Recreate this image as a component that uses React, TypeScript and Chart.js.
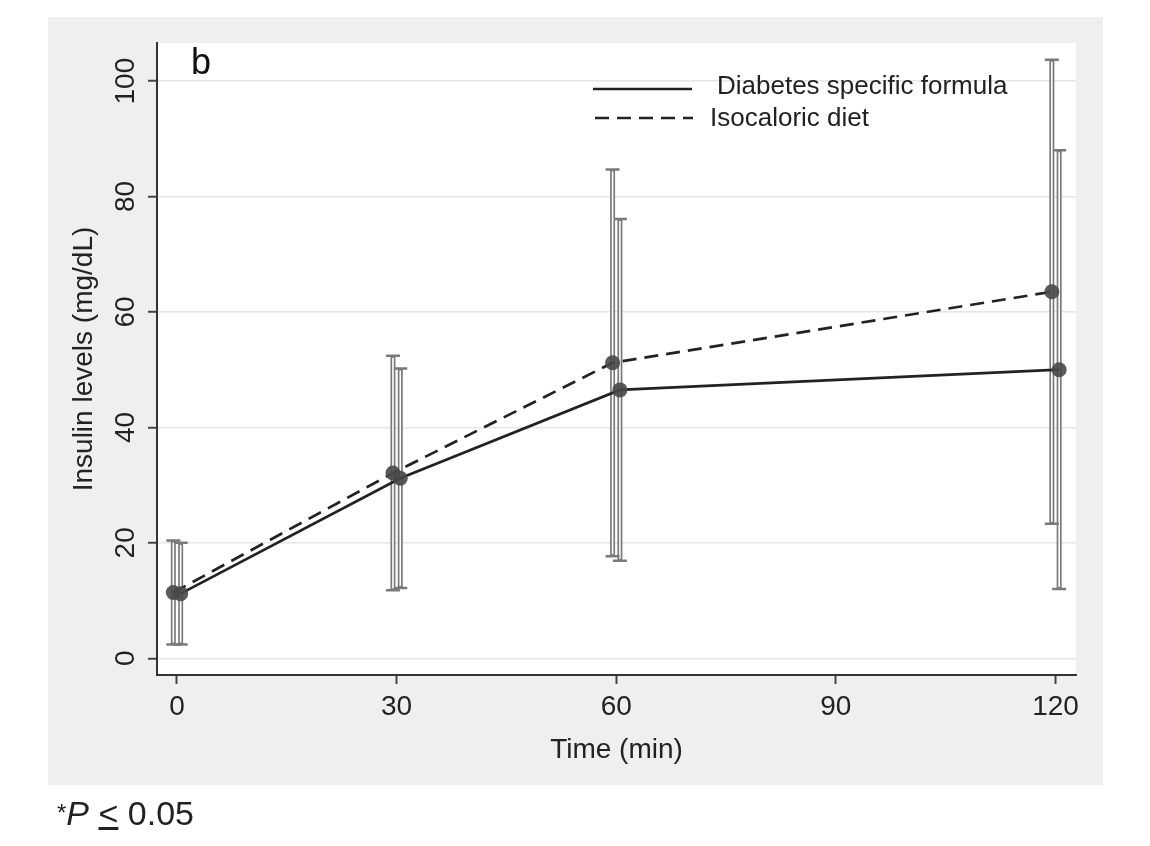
import { useEffect, useRef } from "react"
import { Chart, registerables } from "chart.js"
import type { Plugin } from "chart.js"

Chart.register(...registerables)

// mean and SD of insulin at each time point
const times = [0, 30, 60, 120]
const formulaMean = [11.2, 31.2, 46.5, 50.0]
const formulaSd = [8.8, 19.0, 29.6, 38.0]
const dietMean = [11.4, 32.1, 51.2, 63.5]
const dietSd = [9.0, 20.3, 33.5, 40.2]
const seriesNames = ["Diabetes specific formula", "Isocaloric diet"]
const xTicks = [0, 30, 60, 90, 120]
const yTicks = [0, 20, 40, 60, 80, 100]

const FONT = "'Liberation Sans', Arial, Helvetica, sans-serif"
const INK = "#222222"

export default function App() {
  const canvasRef = useRef<HTMLCanvasElement>(null)

  useEffect(() => {
    if (!canvasRef.current) return

    // the two groups are drawn slightly apart so the bars do not overlap
    const shift = [0.5, -0.5]
    const means = [formulaMean, dietMean]
    const sds = [formulaSd, dietSd]

    const background: Plugin = {
      id: "background",
      beforeDraw: (chart) => {
        const { ctx, chartArea } = chart
        ctx.save()
        ctx.fillStyle = "#ffffff"
        ctx.fillRect(0, 0, chart.width, chart.height)
        ctx.fillStyle = "#efefef"
        ctx.fillRect(48, 17, 1055, 768)
        ctx.fillStyle = "#ffffff"
        ctx.fillRect(chartArea.left, chartArea.top, chartArea.right - chartArea.left, chartArea.bottom - chartArea.top)
        ctx.restore()
      },
    }

    const errorBars: Plugin = {
      id: "errorBars",
      beforeDatasetsDraw: (chart) => {
        const { ctx } = chart
        const yScale = chart.scales.y
        ctx.save()
        chart.data.datasets.forEach((_, i) => {
          const meta = chart.getDatasetMeta(i)
          meta.data.forEach((pt, j) => {
            const x = pt.x
            const top = yScale.getPixelForValue(means[i][j] + sds[i][j])
            const bot = yScale.getPixelForValue(means[i][j] - sds[i][j])
            ctx.lineCap = "butt"
            ctx.strokeStyle = "#7a7a7a"
            ctx.lineWidth = 5
            ctx.beginPath()
            ctx.moveTo(x, top)
            ctx.lineTo(x, bot)
            ctx.stroke()
            ctx.strokeStyle = "#ffffff"
            ctx.lineWidth = 1.6
            ctx.beginPath()
            ctx.moveTo(x, top + 2)
            ctx.lineTo(x, bot - 2)
            ctx.stroke()
            ctx.strokeStyle = "#7a7a7a"
            ctx.lineWidth = 2.5
            ctx.beginPath()
            ctx.moveTo(x - 7, top)
            ctx.lineTo(x + 7, top)
            ctx.moveTo(x - 7, bot)
            ctx.lineTo(x + 7, bot)
            ctx.stroke()
          })
        })
        ctx.restore()
      },
    }

    const annotations: Plugin = {
      id: "annotations",
      afterDraw: (chart) => {
        const { ctx } = chart
        ctx.save()
        ctx.fillStyle = "#111"
        ctx.font = `36px ${FONT}`
        ctx.textBaseline = "alphabetic"
        ctx.fillText("b", 191, 74)

        // legend
        ctx.strokeStyle = INK
        ctx.lineWidth = 2.5
        ctx.beginPath()
        ctx.moveTo(593, 89)
        ctx.lineTo(692, 89)
        ctx.stroke()
        ctx.setLineDash([14, 8])
        ctx.beginPath()
        ctx.moveTo(595, 118)
        ctx.lineTo(693, 118)
        ctx.stroke()
        ctx.setLineDash([])
        ctx.fillStyle = INK
        ctx.font = `26px ${FONT}`
        ctx.textBaseline = "middle"
        ctx.fillText(seriesNames[0], 717, 87)
        ctx.fillText(seriesNames[1], 710, 119)
        ctx.restore()
      },
    }

    const chart = new Chart(canvasRef.current, {
      type: "scatter",
      data: {
        datasets: [
          {
            label: seriesNames[0],
            data: times.map((t, i) => ({ x: t + shift[0], y: formulaMean[i] })),
            showLine: true,
            borderColor: INK,
            borderWidth: 2.7,
            pointRadius: 7.5,
            pointBackgroundColor: "rgba(72,72,72,0.9)",
            pointBorderWidth: 0,
          },
          {
            label: seriesNames[1],
            data: times.map((t, i) => ({ x: t + shift[1], y: dietMean[i] })),
            showLine: true,
            borderColor: INK,
            borderWidth: 2.7,
            borderDash: [14, 8],
            pointRadius: 7.5,
            pointBackgroundColor: "rgba(72,72,72,0.9)",
            pointBorderWidth: 0,
          },
        ],
      },
      options: {
        responsive: true,
        maintainAspectRatio: false,
        animation: false,
        layout: { padding: { left: 0, top: 43, right: 74, bottom: 0 } },
        plugins: {
          legend: { display: false },
          tooltip: { enabled: false },
        },
        scales: {
          x: {
            type: "linear",
            min: -2.73,
            max: 122.8,
            afterBuildTicks: (axis) => {
              axis.ticks = xTicks.map((v) => ({ value: v }))
            },
            afterFit: (axis) => {
              axis.height = 171
            },
            ticks: {
              color: INK,
              padding: 6,
              font: { family: FONT, size: 28 },
            },
            grid: {
              drawOnChartArea: false,
              drawTicks: true,
              tickLength: 9,
              tickColor: "#444",
              tickWidth: 2,
            },
            border: { color: "#333", width: 2 },
            title: {
              display: true,
              text: "Time (min)",
              color: INK,
              font: { family: FONT, size: 28 },
              padding: { top: 4, bottom: 79 },
            },
          },
          y: {
            type: "linear",
            min: -2.89,
            max: 106.6,
            afterBuildTicks: (axis) => {
              axis.ticks = yTicks.map((v) => ({ value: v }))
            },
            afterFit: (axis) => {
              axis.width = 157
            },
            ticks: {
              color: INK,
              padding: -2,
              minRotation: 90,
              maxRotation: 90,
              crossAlign: "center",
              font: { family: FONT, size: 28 },
            },
            grid: {
              color: "#e6e6e6",
              lineWidth: 1.5,
              drawTicks: true,
              tickLength: 9,
              tickColor: "#444",
              tickWidth: 2,
            },
            border: { color: "#333", width: 2 },
            title: {
              display: true,
              text: "Insulin levels (mg/dL)",
              color: INK,
              font: { family: FONT, size: 28 },
              padding: { top: 67, bottom: 0 },
            },
          },
        },
      },
      plugins: [background, errorBars, annotations],
    })

    return () => chart.destroy()
  }, [])

  return (
    <div style={{ position: "absolute", left: 0, top: 0, width: 1150, height: 846 }}>
      <canvas ref={canvasRef}></canvas>
      <div
        style={{
          position: "absolute",
          left: 57,
          top: 796,
          fontFamily: FONT,
          fontSize: 34,
          lineHeight: "34px",
          color: "#222",
          whiteSpace: "nowrap",
        }}
      >
        <span style={{ fontSize: 24, verticalAlign: "top" }}>*</span>
        <i>P</i> <span style={{ textDecoration: "underline" }}>&lt;</span> 0.05
      </div>
    </div>
  )
}
